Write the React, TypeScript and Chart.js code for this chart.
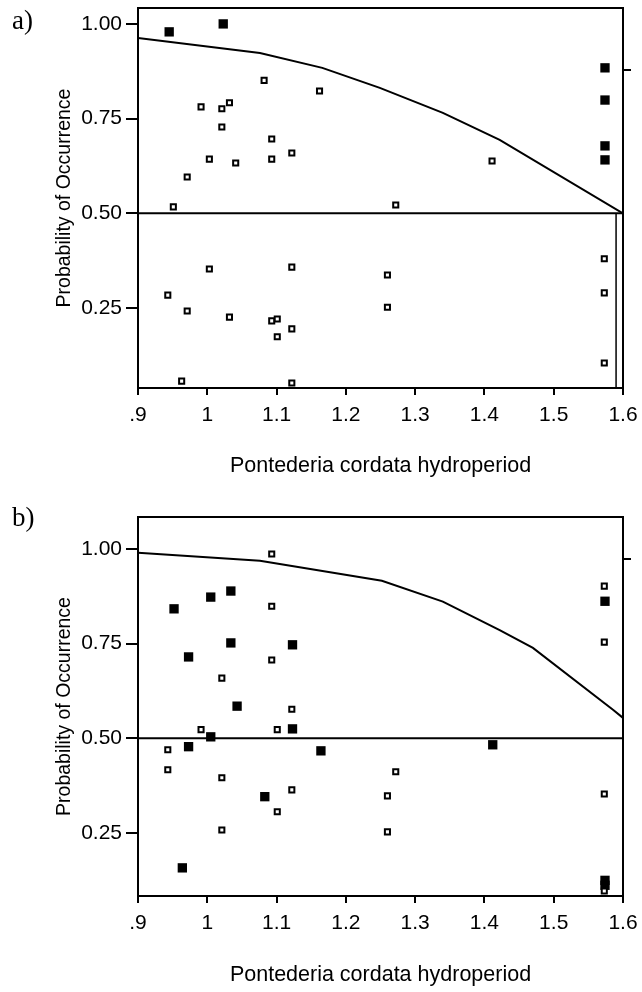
import React, { useEffect, useRef } from "react";
import { Chart, registerables } from "chart.js";

Chart.register(...registerables);

// ---------- data ----------
const xTickValues = [0.9, 1.0, 1.1, 1.2, 1.3, 1.4, 1.5, 1.6];
const xTickLabels = [".9", "1", "1.1", "1.2", "1.3", "1.4", "1.5", "1.6"];
const yTickValues = [0.25, 0.5, 0.75, 1.0];
const yTickLabels = ["0.25", "0.50", "0.75", "1.00"];

// Panel a
const aCurveX = [0.9, 1.076, 1.166, 1.249, 1.34, 1.422, 1.6];
const aCurveY = [0.963, 0.923, 0.884, 0.831, 0.765, 0.694, 0.5];
const aFilledX = [0.945, 1.023, 1.574, 1.574, 1.574, 1.574];
const aFilledY = [0.979, 1.0, 0.884, 0.799, 0.678, 0.641];
const aOpenX = [
  1.082, 1.162, 0.991, 1.021, 1.032, 1.021, 1.093, 1.003, 1.041, 1.093, 1.122, 0.971, 0.951, 1.411, 1.272,
  1.003, 1.122, 0.943, 0.971, 1.032, 1.093, 1.101, 1.122, 1.101, 0.963, 1.122, 1.26, 1.26, 1.573, 1.573, 1.573,
];
const aOpenY = [
  0.851, 0.823, 0.781, 0.776, 0.792, 0.728, 0.696, 0.643, 0.633, 0.643, 0.659, 0.596, 0.517, 0.638, 0.522,
  0.353, 0.358, 0.284, 0.242, 0.226, 0.216, 0.221, 0.195, 0.174, 0.057, 0.052, 0.337, 0.252, 0.38, 0.29, 0.105,
];
const aCutoffX = 1.59;
const aRightTick = 0.879;
const aYRange = [0.0388, 1.042];

// Panel b
const bCurveX = [0.9, 1.076, 1.252, 1.34, 1.422, 1.47, 1.586, 1.6];
const bCurveY = [0.99, 0.969, 0.916, 0.861, 0.786, 0.739, 0.575, 0.554];
const bFilledX = [
  0.952, 1.005, 1.034, 1.034, 1.123, 0.973, 1.043, 1.123, 1.005, 0.973, 1.164, 1.083, 0.964, 1.412, 1.574, 1.574, 1.574,
];
const bFilledY = [
  0.842, 0.873, 0.889, 0.752, 0.747, 0.715, 0.585, 0.525, 0.504, 0.478, 0.467, 0.346, 0.158, 0.483, 0.862, 0.125, 0.112,
];
const bOpenX = [
  1.093, 1.093, 1.093, 1.021, 1.122, 0.991, 1.101, 0.943, 0.943, 1.021, 1.122, 1.101, 1.021, 1.272, 1.26, 1.26, 1.573,
  1.573, 1.573, 1.573,
];
const bOpenY = [
  0.987, 0.849, 0.707, 0.659, 0.577, 0.523, 0.523, 0.47, 0.417, 0.396, 0.364, 0.306, 0.258, 0.412, 0.348, 0.253, 0.353,
  0.902, 0.754, 0.097,
];
const bRightTick = 0.974;
const bYRange = [0.0837, 1.0845];

const cutLevel = 0.5;
const xTitle = "Pontederia cordata hydroperiod";
const yTitle = "Probability of Occurrence";

// ---------- helpers ----------
const SANS = "'Liberation Sans', Arial, Helvetica, sans-serif";
const SERIF = "'Liberation Serif', 'Times New Roman', serif";

const zip = (xs: number[], ys: number[]) => xs.map((x, i) => ({ x, y: ys[i] }));

type PanelProps = {
  label: string;
  curveX: number[];
  curveY: number[];
  filledX: number[];
  filledY: number[];
  openX: number[];
  openY: number[];
  yRange: number[];
  rightTick: number;
  cutoffX?: number;
  height: number;
  padTop: number;
  xAxisHeight: number;
  xTitlePadBottom: number;
  labelY: number;
};

function Panel(p: PanelProps) {
  const ref = useRef<HTMLCanvasElement | null>(null);
  useEffect(() => {
    if (!ref.current) return;
    const [ymin, ymax] = p.yRange;
    const datasets: any[] = [
      {
        type: "line",
        data: zip(p.curveX, p.curveY),
        borderColor: "#000",
        borderWidth: 2,
        pointRadius: 0,
        fill: false,
        tension: 0,
      },
      {
        type: "line",
        data: [
          { x: xTickValues[0], y: cutLevel },
          { x: xTickValues[xTickValues.length - 1], y: cutLevel },
        ],
        borderColor: "#000",
        borderWidth: 2,
        pointRadius: 0,
        fill: false,
      },
    ];
    if (p.cutoffX !== undefined) {
      datasets.push({
        type: "line",
        data: [
          { x: p.cutoffX, y: ymin },
          { x: p.cutoffX, y: cutLevel },
        ],
        borderColor: "#000",
        borderWidth: 1.5,
        pointRadius: 0,
        fill: false,
      });
    }
    datasets.push({
      type: "scatter",
      data: zip(p.openX, p.openY),
      pointStyle: "rect",
      pointRadius: 3.6,
      backgroundColor: "#fff",
      borderColor: "#000",
      borderWidth: 2,
    });
    datasets.push({
      type: "scatter",
      data: zip(p.filledX, p.filledY),
      pointStyle: "rect",
      pointRadius: 6.6,
      backgroundColor: "#000",
      borderColor: "#000",
      borderWidth: 0,
    });

    const frame = {
      id: "frame",
      afterDraw(chart: any) {
        const { ctx, chartArea } = chart;
        ctx.save();
        ctx.strokeStyle = "#000";
        ctx.lineWidth = 2;
        ctx.beginPath();
        ctx.moveTo(chartArea.left - 1, chartArea.top);
        ctx.lineTo(chartArea.right + 1, chartArea.top);
        ctx.stroke();
        ctx.fillStyle = "#000";
        ctx.font = `27px ${SERIF}`;
        ctx.textBaseline = "middle";
        ctx.textAlign = "left";
        ctx.fillText(p.label, 12, p.labelY);
        ctx.restore();
      },
    };

    const tickFont = { family: SANS, size: 21 };
    const chart = new Chart(ref.current, {
      type: "scatter",
      data: { datasets },
      plugins: [frame],
      options: {
        animation: false,
        responsive: false,
        maintainAspectRatio: false,
        devicePixelRatio: 1,
        layout: { padding: { top: p.padTop, left: 0, right: 0, bottom: 0 } },
        plugins: { legend: { display: false }, tooltip: { enabled: false } },
        scales: {
          x: {
            type: "linear",
            position: "bottom",
            min: xTickValues[0],
            max: xTickValues[xTickValues.length - 1],
            afterBuildTicks: (s: any) => {
              s.ticks = xTickValues.map((v) => ({ value: v }));
            },
            afterFit: (s: any) => {
              s.height = p.xAxisHeight;
              s.paddingLeft = 0;
              s.paddingRight = 0;
            },
            ticks: {
              autoSkip: false,
              maxRotation: 0,
              color: "#000",
              font: tickFont,
              padding: 8,
              callback: (v: any) => {
                const i = xTickValues.findIndex((t) => Math.abs(t - Number(v)) < 1e-6);
                return i >= 0 ? xTickLabels[i] : "";
              },
            },
            grid: { drawOnChartArea: false, drawTicks: true, tickLength: 7, color: "#000", lineWidth: 2 },
            border: { display: true, color: "#000", width: 2 },
            title: {
              display: true,
              text: xTitle,
              color: "#000",
              font: { family: SANS, size: 21.5 },
              padding: { top: 0, bottom: p.xTitlePadBottom },
            },
          },
          y: {
            type: "linear",
            position: "left",
            min: ymin,
            max: ymax,
            afterBuildTicks: (s: any) => {
              s.ticks = yTickValues.map((v) => ({ value: v }));
            },
            afterFit: (s: any) => {
              s.width = 138;
              s.paddingTop = 0;
              s.paddingBottom = 0;
            },
            ticks: {
              color: "#000",
              font: tickFont,
              padding: 4,
              callback: (v: any) => {
                const i = yTickValues.findIndex((t) => Math.abs(t - Number(v)) < 1e-6);
                return i >= 0 ? yTickLabels[i] : "";
              },
            },
            grid: { drawOnChartArea: false, drawTicks: true, tickLength: 12, color: "#000", lineWidth: 2 },
            border: { display: true, color: "#000", width: 2 },
            title: {
              display: true,
              text: yTitle,
              color: "#000",
              font: { family: SANS, size: 19.5 },
              padding: { top: 53, bottom: 0 },
            },
          },
          y2: {
            type: "linear",
            position: "right",
            min: ymin,
            max: ymax,
            afterBuildTicks: (s: any) => {
              s.ticks = [{ value: p.rightTick }];
            },
            afterFit: (s: any) => {
              s.width = 19;
              s.paddingTop = 0;
              s.paddingBottom = 0;
            },
            ticks: { callback: () => "", font: tickFont, padding: 0 },
            grid: { drawOnChartArea: false, drawTicks: true, tickLength: 8, color: "#000", lineWidth: 2 },
            border: { display: true, color: "#000", width: 2 },
          },
        },
      } as any,
    });
    return () => chart.destroy();
  }, []);
  return <canvas ref={ref} width={642} height={p.height} style={{ display: "block" }} />;
}

export default function App() {
  return (
    <div style={{ position: "absolute", left: 0, top: 0, width: 642, height: 992, background: "#fff" }}>
      <Panel
        label="a)"
        curveX={aCurveX}
        curveY={aCurveY}
        filledX={aFilledX}
        filledY={aFilledY}
        openX={aOpenX}
        openY={aOpenY}
        yRange={aYRange}
        rightTick={aRightTick}
        cutoffX={aCutoffX}
        height={492}
        padTop={8}
        xAxisHeight={104}
        xTitlePadBottom={13}
        labelY={22}
      />
      <Panel
        label="b)"
        curveX={bCurveX}
        curveY={bCurveY}
        filledX={bFilledX}
        filledY={bFilledY}
        openX={bOpenX}
        openY={bOpenY}
        yRange={bYRange}
        rightTick={bRightTick}
        height={500}
        padTop={25}
        xAxisHeight={96}
        xTitlePadBottom={4}
        labelY={27}
      />
    </div>
  );
}
